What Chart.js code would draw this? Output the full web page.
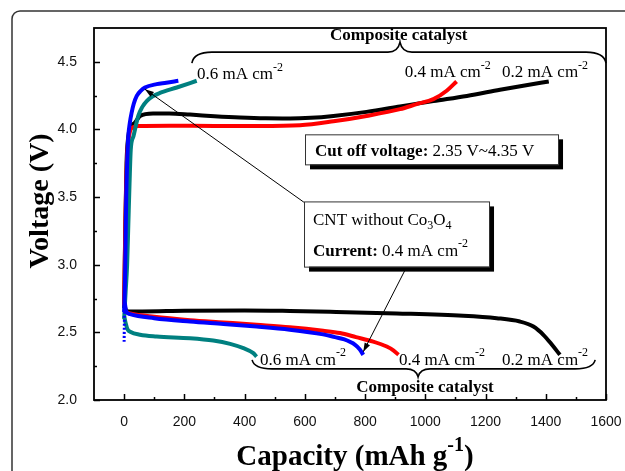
<!DOCTYPE html>
<html><head><meta charset="utf-8">
<script src="https://cdn.jsdelivr.net/npm/chart.js@4/dist/chart.umd.min.js"></script>
<style>html,body{margin:0;padding:0;background:#fff;}canvas{display:block}</style>
</head><body>
<canvas id="c" width="625" height="471"></canvas>
<script>
// ---------- data (capacity mAh/g, voltage V) ----------
const xTickValues = [0, 200, 400, 600, 800, 1000, 1200, 1400, 1600];
const xMinorTicks = [100, 300, 500, 700, 900, 1100, 1300, 1500];
const yTickValues = [2.0, 2.5, 3.0, 3.5, 4.0, 4.5];
const yMinorTicks = [2.25, 2.75, 3.25, 3.75, 4.25];

// charge curves
const chargeComposite02 = [[0,2.68],[4,3.3],[8,3.75],[14,3.95],[25,4.03],[36,4.05],[53,4.1],[96,4.118],[150,4.118],[219,4.11],[300,4.098],[385,4.088],[470,4.082],[551,4.081],[620,4.086],[695,4.1],[805,4.13],[916,4.17],[1027,4.21],[1138,4.248],[1248,4.293],[1330,4.325],[1410,4.355]];
const chargeComposite04 = [[0,2.7],[5,3.4],[10,3.8],[18,3.97],[28,4.015],[50,4.025],[150,4.028],[300,4.026],[450,4.026],[584,4.031],[695,4.06],[805,4.1],[916,4.15],[971,4.187],[1027,4.224],[1071,4.286],[1104,4.355]];
const chargeComposite06 = [[0,2.6],[5,2.8],[10,3.0],[14,3.3],[18,3.6],[22,3.85],[31,3.95],[47,4.1],[60,4.165],[75,4.21],[95,4.245],[119,4.27],[175,4.31],[241,4.36]];
const chargeCNT04 = [[0,2.65],[3,2.9],[5,3.2],[7,3.5],[10,3.75],[14,3.95],[19,4.05],[25,4.125],[32,4.19],[42,4.248],[55,4.285],[69,4.31],[108,4.335],[140,4.345],[180,4.36]];

// discharge curves
const dischargeComposite02 = [[0,2.72],[5,2.67],[15,2.655],[60,2.655],[200,2.66],[400,2.662],[550,2.658],[684,2.652],[905,2.64],[1126,2.623],[1237,2.605],[1314,2.58],[1359,2.543],[1392,2.482],[1420,2.41],[1447,2.334]];
const dischargeComposite04 = [[0,2.72],[5,2.66],[20,2.64],[100,2.615],[219,2.59],[330,2.573],[440,2.556],[550,2.538],[661,2.512],[717,2.495],[770,2.465],[827,2.432],[872,2.395],[895,2.365],[911,2.334]];
const dischargeComposite06 = [[0,2.62],[5,2.57],[12,2.52],[20,2.505],[53,2.482],[108,2.469],[219,2.457],[296,2.44],[352,2.415],[396,2.383],[429,2.346],[440,2.32]];
const dischargeCNT04 = [[0,2.43],[2,2.72],[6,2.66],[20,2.635],[100,2.605],[219,2.58],[330,2.562],[440,2.543],[550,2.52],[661,2.485],[700,2.465],[728,2.45],[767,2.408],[782,2.375],[794,2.334]];

const SERIF = '"Liberation Serif","Times New Roman",serif';
const SANS = '"Liberation Sans",Arial,sans-serif';
const C_BLACK = '#000000', C_RED = '#ff0000', C_BLUE = '#0000ff', C_TEAL = '#008080';

function toPts(arr){ return arr.map(p => ({x: p[0], y: p[1]})); }
function ds(arr, color, extra){
  return Object.assign({data: toPts(arr), borderColor: color, backgroundColor: color, showLine: true,
    borderWidth: 4, pointRadius: 0, cubicInterpolationMode: 'monotone', fill: false}, extra || {});
}

function fnt(size, bold){ return (bold ? 'bold ' : '') + size + 'px ' + SERIF; }
function richWidth(ctx, parts, size){
  let w = 0;
  for (const p of parts){
    const s = (p.sup || p.sub) ? Math.round(size * 0.68) : size;
    ctx.font = fnt(s, p.b); w += ctx.measureText(p.t).width;
  }
  return w;
}
function rich(ctx, parts, x, y, size, align){
  let cx = x;
  if (align === 'center') cx = x - richWidth(ctx, parts, size) / 2;
  ctx.textBaseline = 'alphabetic'; ctx.textAlign = 'left'; ctx.fillStyle = '#000';
  for (const p of parts){
    let s = size, dy = 0;
    if (p.sup){ s = Math.round(size * 0.68); dy = -size * 0.5; }
    if (p.sub){ s = Math.round(size * 0.68); dy = size * 0.25; }
    ctx.font = fnt(s, p.b);
    ctx.fillText(p.t, cx, y + dy);
    cx += ctx.measureText(p.t).width;
  }
}
const mAcm = lbl => [{t: lbl + ' mA cm'}, {t: '-2', sup: true}];

// annotation positions in data units
const topLabels = [[242, 4.372, '0.6'], [932, 4.385, '0.4'], [1255, 4.385, '0.2']];
const bottomLabels = [[451, 2.259, '0.6'], [913, 2.259, '0.4'], [1255, 2.259, '0.2']];
const topBrace = {x1: 225, x2: 1600, xc: 916, y: 4.572, endDy: 11, cuspDy: -10};
const bottomBrace = {x1: 425, x2: 1564, xc: 976, y: 2.230, endDy: -9, cuspDy: 8};

function brace(ctx, xs, ys, b){
  const a = xs.getPixelForValue(b.x1), z = xs.getPixelForValue(b.x2), c = xs.getPixelForValue(b.xc);
  const y = ys.getPixelForValue(b.y);
  ctx.beginPath();
  ctx.moveTo(a, y + b.endDy);
  ctx.quadraticCurveTo(a + 2, y, a + 20, y);
  ctx.lineTo(c - 12, y);
  ctx.quadraticCurveTo(c - 2, y, c, y + b.cuspDy);
  ctx.quadraticCurveTo(c + 2, y, c + 12, y);
  ctx.lineTo(z - 20, y);
  ctx.quadraticCurveTo(z - 2, y, z, y + b.endDy);
  ctx.lineWidth = 1.6; ctx.strokeStyle = '#000'; ctx.stroke();
}
function arrow(ctx, x1, y1, x2, y2){
  ctx.beginPath(); ctx.moveTo(x1, y1); ctx.lineTo(x2, y2);
  ctx.lineWidth = 1; ctx.strokeStyle = '#000'; ctx.stroke();
  const ang = Math.atan2(y2 - y1, x2 - x1), L = 9, W = 3;
  ctx.beginPath();
  ctx.moveTo(x2, y2);
  ctx.lineTo(x2 - L * Math.cos(ang) + W * Math.sin(ang), y2 - L * Math.sin(ang) - W * Math.cos(ang));
  ctx.lineTo(x2 - L * Math.cos(ang) - W * Math.sin(ang), y2 - L * Math.sin(ang) + W * Math.cos(ang));
  ctx.closePath(); ctx.fillStyle = '#000'; ctx.fill();
}
function shadowBox(ctx, x1, y1, x2, y2){
  ctx.fillStyle = '#000'; ctx.fillRect(x1 + 5, y1 + 5, x2 - x1, y2 - y1);
  ctx.fillStyle = '#fff'; ctx.fillRect(x1, y1, x2 - x1, y2 - y1);
  ctx.lineWidth = 1; ctx.strokeStyle = '#333'; ctx.strokeRect(x1 + 0.5, y1 + 0.5, x2 - x1, y2 - y1);
}

const decor = {
  id: 'decor',
  afterDraw(chart){
    const ctx = chart.ctx, xs = chart.scales.x, ys = chart.scales.y, a = chart.chartArea;
    const X = v => xs.getPixelForValue(v), Y = v => ys.getPixelForValue(v);
    ctx.save();
    // outer figure frame (rounded)
    ctx.beginPath();
    ctx.moveTo(12, 480); ctx.lineTo(12, 19); ctx.arcTo(12, 11, 20, 11, 8); ctx.lineTo(640, 11);
    ctx.lineWidth = 1.5; ctx.strokeStyle = '#333'; ctx.stroke();
    // plot frame
    ctx.lineWidth = 1.8; ctx.strokeStyle = '#000';
    ctx.strokeRect(a.left, a.top, a.right - a.left, a.bottom - a.top);
    // inward ticks
    ctx.lineWidth = 1.5;
    ctx.beginPath();
    xTickValues.forEach(v => { const p = Math.round(X(v)) + 0.5; ctx.moveTo(p, a.bottom); ctx.lineTo(p, a.bottom - 6); });
    xMinorTicks.forEach(v => { const p = Math.round(X(v)) + 0.5; ctx.moveTo(p, a.bottom); ctx.lineTo(p, a.bottom - 3); });
    yTickValues.forEach(v => { const p = Math.round(Y(v)) + 0.5; ctx.moveTo(a.left, p); ctx.lineTo(a.left + 6, p); });
    yMinorTicks.forEach(v => { const p = Math.round(Y(v)) + 0.5; ctx.moveTo(a.left, p); ctx.lineTo(a.left + 3, p); });
    ctx.stroke();

    // axis titles
    ctx.save();
    ctx.translate(48, (a.top + a.bottom) / 2 - 13);
    ctx.rotate(-Math.PI / 2);
    ctx.font = fnt(28, true); ctx.fillStyle = '#000'; ctx.textAlign = 'center'; ctx.textBaseline = 'alphabetic';
    ctx.fillText('Voltage (V)', 0, 0);
    ctx.restore();
    const xt = [{t: 'Capacity (mAh g', b: true}, {t: '-1', b: true, sup: true}, {t: ')', b: true}];
    rich(ctx, xt, (a.left + a.right) / 2 + 5, 465, 29, 'center');

    // braces and labels
    brace(ctx, xs, ys, topBrace);
    brace(ctx, xs, ys, bottomBrace);
    rich(ctx, [{t: 'Composite catalyst', b: true}], X(912), Y(4.661), 17, 'center');
    rich(ctx, [{t: 'Composite catalyst', b: true}], X(999), Y(2.059), 17, 'center');
    topLabels.forEach(l => rich(ctx, mAcm(l[2]), X(l[0]), Y(l[1]), 17));
    bottomLabels.forEach(l => rich(ctx, mAcm(l[2]), X(l[0]), Y(l[1]), 17));

    // arrows (from CNT box to CNT curves)
    arrow(ctx, X(597), Y(3.462), X(69), Y(4.298));
    arrow(ctx, X(937), Y(2.979), X(794), Y(2.356));

    // cut-off box
    shadowBox(ctx, X(600.6), Y(3.964), X(1440.7), Y(3.742));
    rich(ctx, [{t: 'Cut off voltage:', b: true}, {t: ' 2.35 V~4.35 V'}], X(633.8), Y(3.801), 17);
    // CNT box
    shadowBox(ctx, X(597.3), Y(3.468), X(1211.6), Y(2.986));
    rich(ctx, [{t: 'CNT without Co'}, {t: '3', sub: true}, {t: 'O'}, {t: '4', sub: true}], X(627.2), Y(3.297), 17);
    rich(ctx, [{t: 'Current:', b: true}, {t: ' 0.4 mA cm'}, {t: '-2', sup: true}], X(627.2), Y(3.067), 17);
    ctx.restore();
  }
};

new Chart(document.getElementById('c').getContext('2d'), {
  type: 'scatter',
  data: {
    datasets: [
      ds(chargeCNT04, C_BLUE),
      ds(dischargeCNT04, C_BLUE, {segment: {borderDash: c => c.p0DataIndex === 0 ? [2, 2] : undefined, borderWidth: c => c.p0DataIndex === 0 ? 3 : undefined}}),
      ds(chargeComposite06, C_TEAL),
      ds(dischargeComposite06, C_TEAL),
      ds(chargeComposite04, C_RED),
      ds(dischargeComposite04, C_RED),
      ds(chargeComposite02, C_BLACK),
      ds(dischargeComposite02, C_BLACK)
    ]
  },
  options: {
    responsive: false, animation: false, devicePixelRatio: 1,
    layout: {padding: {top: 28, right: 19, left: 0, bottom: 0}},
    plugins: {legend: {display: false}, tooltip: {enabled: false}},
    scales: {
      x: {
        type: 'linear', min: -100, max: 1600,
        afterBuildTicks: s => { s.ticks = xTickValues.map(v => ({value: v})); },
        afterFit: s => { s.height = 71; s.paddingLeft = 0; s.paddingRight = 0; },
        grid: {display: false}, border: {display: false},
        ticks: {padding: 6, color: '#111', autoSkip: false, maxRotation: 0,
          font: {family: SANS, size: 14}, callback: v => String(v)}
      },
      y: {
        type: 'linear', min: 2.0, max: 4.75,
        afterBuildTicks: s => { s.ticks = yTickValues.map(v => ({value: v})); },
        afterFit: s => { s.width = 94; s.paddingTop = 0; s.paddingBottom = 0; },
        grid: {display: false}, border: {display: false},
        ticks: {padding: 9, color: '#111', autoSkip: false,
          font: {family: SANS, size: 14}, callback: v => Number(v).toFixed(1)}
      }
    }
  },
  plugins: [decor]
});
</script>
</body></html>
